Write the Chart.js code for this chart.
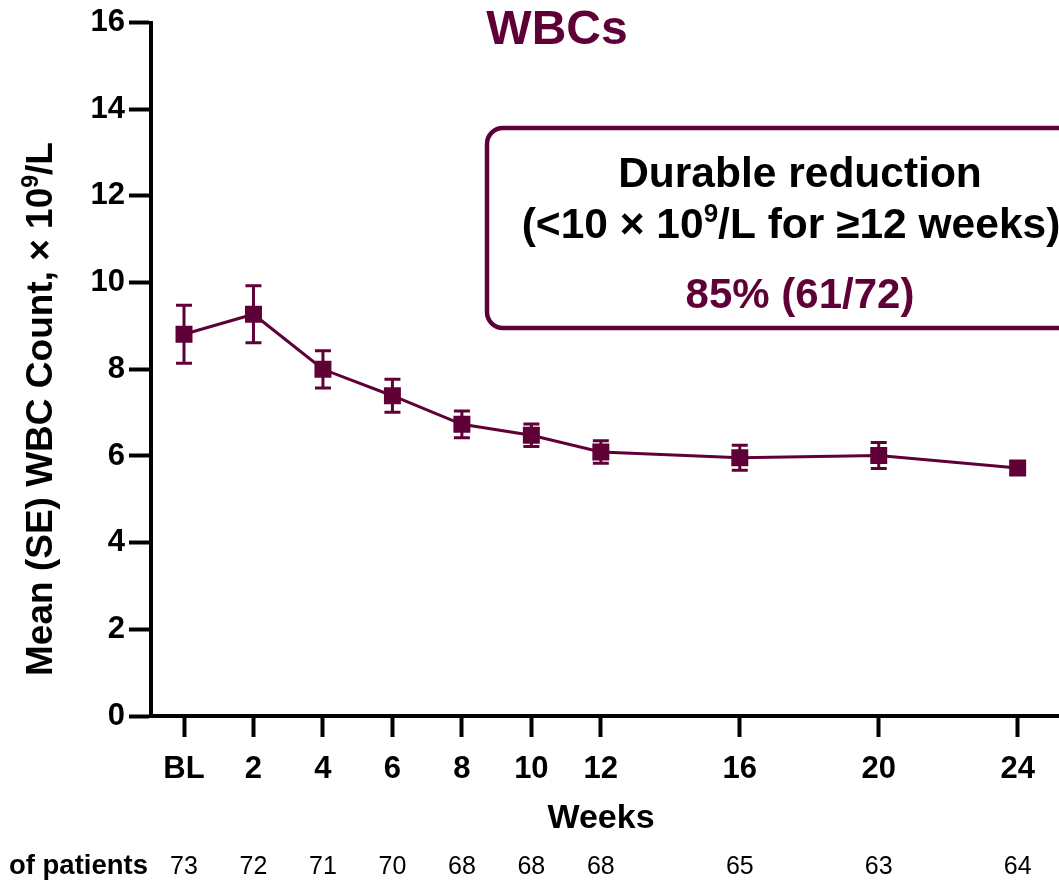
<!DOCTYPE html>
<html>
<head>
<meta charset="utf-8">
<title>WBCs</title>
<script src="https://cdn.jsdelivr.net/npm/chart.js@4.4.1/dist/chart.umd.min.js"></script>
<style>
    html, body { margin: 0; padding: 0; background: #fff; }
    #wrap { width: 1059px; height: 880px; overflow: hidden; position: relative; }
    #wbcChart { display: block; }
</style>
</head>
<body>
<div id="wrap">
    <canvas id="wbcChart" width="1120" height="880"></canvas>
</div>
<script>
// === Data ===
const weeks = [0, 2, 4, 6, 8, 10, 12, 16, 20, 24];
const weekLabels = ["BL", "2", "4", "6", "8", "10", "12", "16", "20", "24"];
const meanWbc = [8.81, 9.27, 8.0, 7.39, 6.73, 6.48, 6.09, 5.96, 6.01, 5.72];
const seWbc = [0.67, 0.66, 0.43, 0.38, 0.31, 0.26, 0.26, 0.29, 0.30, 0.15];
const patients = [73, 72, 71, 70, 68, 68, 68, 65, 63, 64];
const yTicks = [0, 2, 4, 6, 8, 10, 12, 14, 16];

const MAROON = "#5f0037";
const FONT = "'Liberation Sans', Arial, Helvetica, sans-serif";

// === Text with a raised "9" (10⁹) ===
function drawSegments(ctx, parts, x, y, size, align) {
    const sup = Math.round(size * 0.62);
    let total = 0;
    parts.forEach(p => {
        ctx.font = `bold ${p.sup ? sup : size}px ${FONT}`;
        p.w = ctx.measureText(p.t).width;
        total += p.w;
    });
    let cx = align === "center" ? x - total / 2 : x;
    ctx.textAlign = "left";
    parts.forEach(p => {
        ctx.font = `bold ${p.sup ? sup : size}px ${FONT}`;
        ctx.fillText(p.t, cx, p.sup ? y - size * 0.38 : y);
        cx += p.w;
    });
}

// === Error bars (behind the markers) ===
const errorBars = {
    id: "errorBars",
    beforeDatasetsDraw(chart) {
        const { ctx, scales: { x, y } } = chart;
        ctx.save();
        ctx.strokeStyle = MAROON;
        ctx.lineWidth = 3;
        weeks.forEach((w, i) => {
            const px = x.getPixelForValue(w);
            const top = y.getPixelForValue(meanWbc[i] + seWbc[i]);
            const bot = y.getPixelForValue(meanWbc[i] - seWbc[i]);
            ctx.beginPath();
            ctx.moveTo(px, top); ctx.lineTo(px, bot);
            ctx.moveTo(px - 8, top); ctx.lineTo(px + 8, top);
            ctx.moveTo(px - 8, bot); ctx.lineTo(px + 8, bot);
            ctx.stroke();
        });
        ctx.restore();
    }
};

// === Title, axis titles, callout box, patient row ===
const extras = {
    id: "extras",
    afterDraw(chart) {
        const { ctx, scales: { x } } = chart;
        ctx.save();
        ctx.textBaseline = "alphabetic";

        // title
        ctx.fillStyle = MAROON;
        ctx.font = `bold 48px ${FONT}`;
        ctx.textAlign = "center";
        ctx.fillText("WBCs", 557, 44);

        // y axis title
        ctx.save();
        ctx.translate(52, 409);
        ctx.rotate(-Math.PI / 2);
        ctx.fillStyle = "#000";
        drawSegments(ctx, [
            { t: "Mean (SE) WBC Count, \u00d7 10" },
            { t: "9", sup: true },
            { t: "/L" }
        ], 0, 0, 37, "center");
        ctx.restore();

        // x axis title
        ctx.fillStyle = "#000";
        ctx.font = `bold 34px ${FONT}`;
        ctx.textAlign = "center";
        ctx.fillText("Weeks", 601, 828);

        // patients at risk
        ctx.font = `bold 27.5px ${FONT}`;
        ctx.textAlign = "right";
        ctx.fillText("of patients", 148, 874);
        ctx.font = `25px ${FONT}`;
        ctx.textAlign = "center";
        weeks.forEach((w, i) => {
            ctx.fillText(String(patients[i]), x.getPixelForValue(w), 874);
        });

        // callout box
        ctx.strokeStyle = MAROON;
        ctx.lineWidth = 4.5;
        ctx.beginPath();
        ctx.roundRect(487, 128, 626, 200, 16);
        ctx.stroke();

        ctx.fillStyle = "#000";
        ctx.font = `bold 42.5px ${FONT}`;
        ctx.textAlign = "center";
        ctx.fillText("Durable reduction", 800, 187);
        drawSegments(ctx, [
            { t: "(<10 \u00d7 10" },
            { t: "9", sup: true },
            { t: "/L for \u226512 weeks)" }
        ], 791, 238, 42.5, "center");
        ctx.fillStyle = MAROON;
        ctx.font = `bold 42px ${FONT}`;
        ctx.textAlign = "center";
        ctx.fillText("85% (61/72)", 800, 308);

        ctx.restore();
    }
};

// === Chart ===
const ctx = document.getElementById("wbcChart").getContext("2d");
new Chart(ctx, {
    type: "line",
    data: {
        datasets: [
            {
                data: weeks.map((w, i) => ({ x: w, y: meanWbc[i] })),
                borderColor: MAROON,
                borderWidth: 3,
                pointStyle: "rect",
                pointRadius: 12,
                pointBackgroundColor: MAROON,
                pointBorderColor: MAROON,
                pointBorderWidth: 0,
                tension: 0,
            },
        ],
    },
    options: {
        responsive: false,
        animation: false,
        events: [],
        layout: { padding: { top: 20, left: 0, right: 0, bottom: 0 } },
        plugins: { legend: { display: false }, tooltip: { enabled: false } },
        scales: {
            x: {
                type: "linear",
                min: -0.95,
                max: 26.6,
                afterBuildTicks: scale => { scale.ticks = weeks.map(v => ({ value: v })); },
                afterFit: scale => { scale.height = 164; },
                ticks: {
                    autoSkip: false,
                    maxRotation: 0,
                    color: "#000",
                    padding: 14,
                    font: { family: FONT, size: 31, weight: "bold" },
                    callback: v => weekLabels[weeks.indexOf(v)],
                },
                grid: { drawOnChartArea: false, tickLength: 21, tickWidth: 4, tickColor: "#000" },
                border: { width: 4, color: "#000" },
            },
            y: {
                min: 0,
                max: 16,
                afterBuildTicks: scale => { scale.ticks = yTicks.map(v => ({ value: v })); },
                afterFit: scale => { scale.width = 151; },
                ticks: {
                    color: "#000",
                    padding: 4,
                    font: { family: FONT, size: 31, weight: "bold" },
                },
                grid: { drawOnChartArea: false, tickLength: 22, tickWidth: 4, tickColor: "#000" },
                border: { width: 4, color: "#000" },
            },
        },
    },
    plugins: [errorBars, extras],
});
</script>
</body>
</html>
